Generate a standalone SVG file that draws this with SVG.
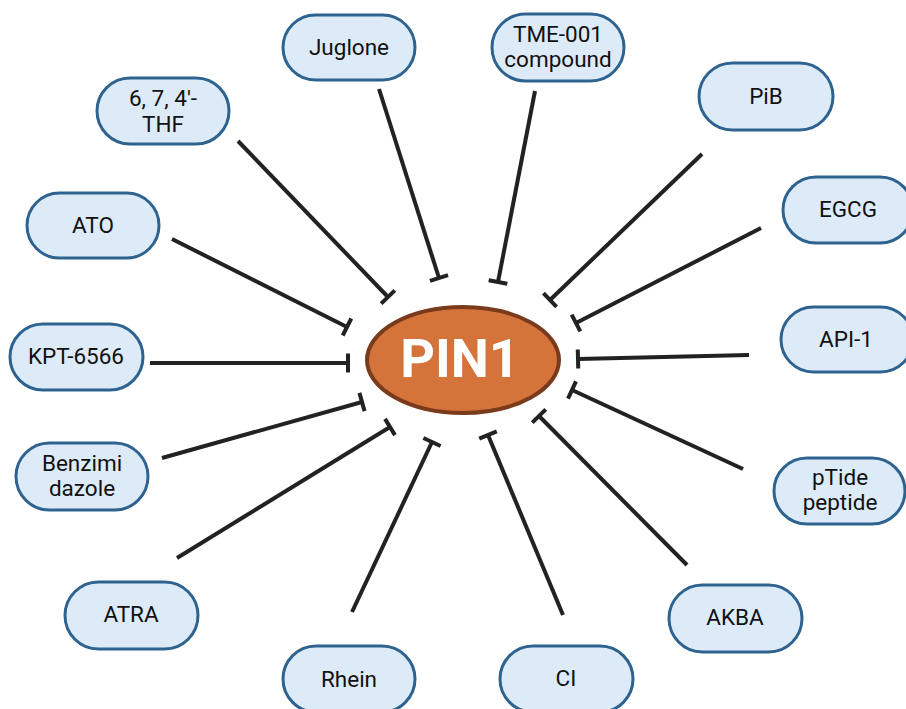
<svg xmlns="http://www.w3.org/2000/svg" width="906" height="709" viewBox="0 0 906 709">
  <style>
    .node rect { fill: #DDEBF8; stroke: #2E6390; stroke-width: 3; }
    .node text { font-family: Roboto, "Liberation Sans", sans-serif; font-size: 22.5px; fill: #111; text-anchor: middle; }
    .conn line { stroke: #222; stroke-width: 4; marker-end: url(#tbar); }
    .pin1 ellipse { fill: #D4733A; stroke: #7A3A1C; stroke-width: 4; }
    .pin1 text { font-family: Roboto, "Liberation Sans", sans-serif; font-weight: bold; font-size: 54px; fill: #fff; text-anchor: middle; }
  </style>
  <defs>
    <marker id="tbar" markerUnits="userSpaceOnUse" viewBox="-3 -11 6 22" markerWidth="6" markerHeight="22" refX="0" refY="0" orient="auto">
      <line x1="0" y1="-9.5" x2="0" y2="9.5" stroke="#222" stroke-width="4"/>
    </marker>
  </defs>

  <g id="connectors" class="conn">
    <line x1="379" y1="89" x2="439" y2="278"/>
    <line x1="535" y1="91" x2="498" y2="282"/>
    <line x1="238" y1="141" x2="388" y2="297"/>
    <line x1="702" y1="154" x2="550" y2="300"/>
    <line x1="172" y1="239" x2="347" y2="327"/>
    <line x1="761" y1="228" x2="576" y2="323"/>
    <line x1="150" y1="363" x2="348" y2="363"/>
    <line x1="749" y1="355" x2="578" y2="359"/>
    <line x1="162" y1="458" x2="362" y2="402"/>
    <line x1="743" y1="469" x2="572" y2="390"/>
    <line x1="177" y1="558" x2="390" y2="427"/>
    <line x1="687" y1="565" x2="539" y2="416"/>
    <line x1="352" y1="612" x2="432" y2="442"/>
    <line x1="563" y1="615" x2="488" y2="435"/>
  </g>

  <g id="PIN1" class="pin1">
    <ellipse cx="463" cy="360" rx="96" ry="53"/>
    <text x="460" y="377">PIN1</text>
  </g>

  <g id="Juglone" class="node">
    <rect x="283" y="15" width="132" height="65" rx="32.5"/>
    <text x="349" y="55">Juglone</text>
  </g>
  <g id="THF" class="node">
    <rect x="97" y="78" width="132" height="66" rx="33"/>
    <text x="163" y="106">6, 7, 4'-</text>
    <text x="163" y="132">THF</text>
  </g>
  <g id="ATO" class="node">
    <rect x="27" y="193" width="132" height="65" rx="32.5"/>
    <text x="93" y="233">ATO</text>
  </g>
  <g id="TME-001" class="node">
    <rect x="492" y="14" width="132" height="67" rx="33.5"/>
    <text x="558" y="42">TME-001</text>
    <text x="558" y="67">compound</text>
  </g>
  <g id="PiB" class="node">
    <rect x="699" y="63" width="134" height="67" rx="33.5"/>
    <text x="766" y="104">PiB</text>
  </g>
  <g id="EGCG" class="node">
    <rect x="783" y="177" width="130" height="66" rx="33"/>
    <text x="848" y="217">EGCG</text>
  </g>
  <g id="API-1" class="node">
    <rect x="781" y="307" width="132" height="65" rx="32.5"/>
    <text x="846" y="347">API-1</text>
  </g>
  <g id="KPT-6566" class="node">
    <rect x="10" y="324" width="133" height="66" rx="33"/>
    <text x="76" y="364">KPT-6566</text>
  </g>
  <g id="Benzimidazole" class="node">
    <rect x="16" y="443" width="132" height="67" rx="33.5"/>
    <text x="82" y="471">Benzimi</text>
    <text x="82" y="496">dazole</text>
  </g>
  <g id="pTide" class="node">
    <rect x="774" y="458" width="131" height="66" rx="33"/>
    <text x="840" y="485">pTide</text>
    <text x="840" y="510">peptide</text>
  </g>
  <g id="ATRA" class="node">
    <rect x="65" y="582" width="133" height="67" rx="33.5"/>
    <text x="131" y="622">ATRA</text>
  </g>
  <g id="AKBA" class="node">
    <rect x="669" y="585" width="133" height="67" rx="33.5"/>
    <text x="735" y="625">AKBA</text>
  </g>
  <g id="Rhein" class="node">
    <rect x="283" y="646" width="132" height="66" rx="33"/>
    <text x="349" y="687">Rhein</text>
  </g>
  <g id="CI" class="node">
    <rect x="500" y="646" width="133" height="66" rx="33"/>
    <text x="566" y="686">CI</text>
  </g>
</svg>
